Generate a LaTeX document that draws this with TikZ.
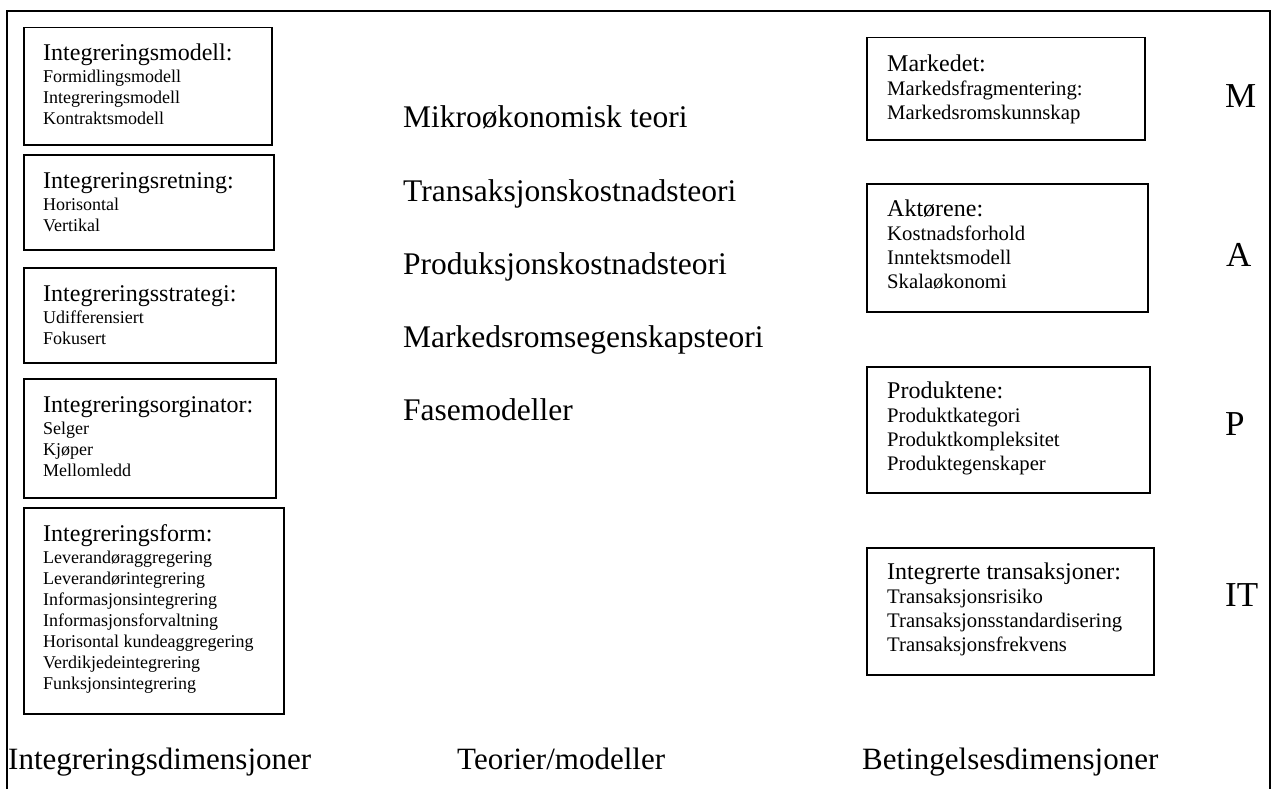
\documentclass[tikz,border=0pt]{standalone}
\usepackage{fontspec}
\setmainfont{Liberation Serif}
\newcommand{\hdr}[1]{{\fontsize{24}{24}\selectfont #1}}
\begin{document}
\begin{tikzpicture}[x=1pt, y=-1pt,
    dimbox/.style={draw, line width=1.5pt, rectangle, anchor=north west, inner sep=0pt},
    lefttext/.style={anchor=north west, inner sep=0pt, align=left, font=\fontsize{18}{21}\selectfont},
    righttext/.style={anchor=north west, inner sep=0pt, align=left, font=\fontsize{20.7}{24}\selectfont},
    theory/.style={anchor=base west, inner sep=0pt, font=\fontsize{31.5}{36}\selectfont},
    letter/.style={anchor=base west, inner sep=0pt, font=\fontsize{35}{40}\selectfont},
    caption/.style={anchor=base west, inner sep=0pt, font=\fontsize{31}{36}\selectfont}]

    \useasboundingbox (0,0) rectangle (1273,789);

    % Outer frame, open at the bottom
    \coordinate (fbl) at (7,789);
    \coordinate (ftl) at (7,11);
    \coordinate (ftr) at (1270,11);
    \coordinate (fbr) at (1270,789);
    \draw[line width=1.5pt] (fbl) -- (ftl) -- (ftr) -- (fbr);

    % Integration dimensions (left column)
    \node[dimbox, minimum width=248pt, minimum height=117pt] (modell) at (23,27) {};
    \node[lefttext] (modell-t) at (43,43.7) {\hdr{Integreringsmodell:}\\[1pt]Formidlingsmodell\\Integreringsmodell\\Kontraktsmodell};

    \node[dimbox, minimum width=250pt, minimum height=95pt] (retning) at (23,154) {};
    \node[lefttext] (retning-t) at (43,172) {\hdr{Integreringsretning:}\\[1pt]Horisontal\\Vertikal};

    \node[dimbox, minimum width=252pt, minimum height=95pt] (strategi) at (23,267) {};
    \node[lefttext] (strategi-t) at (43,285) {\hdr{Integreringsstrategi:}\\[1pt]Udifferensiert\\Fokusert};

    \node[dimbox, minimum width=252pt, minimum height=119pt] (orginator) at (23,378) {};
    \node[lefttext] (orginator-t) at (43,396) {\hdr{Integreringsorginator:}\\[1pt]Selger\\Kjøper\\Mellomledd};

    \node[dimbox, minimum width=260pt, minimum height=206pt] (form) at (23,507) {};
    \node[lefttext] (form-t) at (43,524) {\hdr{Integreringsform:}\\[1pt]Leverandøraggregering\\Leverandørintegrering\\Informasjonsintegrering\\Informasjonsforvaltning\\Horisontal kundeaggregering\\Verdikjedeintegrering\\Funksjonsintegrering};

    % Theories / models (middle column)
    \node[theory] (mikro) at (403,128) {Mikroøkonomisk teori};
    \node[theory] (transkost) at (403,201) {Transaksjonskostnadsteori};
    \node[theory] (prodkost) at (403,274) {Produksjonskostnadsteori};
    \node[theory] (markrom) at (403,347) {Markedsromsegenskapsteori};
    \node[theory] (fase) at (403,420) {Fasemodeller};

    % Condition dimensions (right column)
    \node[dimbox, minimum width=278pt, minimum height=102pt] (marked) at (866,37) {};
    \node[righttext] (marked-t) at (887,55) {\hdr{Markedet:}\\Markedsfragmentering:\\Markedsromskunnskap};

    \node[dimbox, minimum width=281pt, minimum height=128pt] (aktor) at (866,183) {};
    \node[righttext] (aktor-t) at (887,200) {\hdr{Aktørene:}\\Kostnadsforhold\\Inntektsmodell\\Skalaøkonomi};

    \node[dimbox, minimum width=283pt, minimum height=126pt] (produkt) at (866,366) {};
    \node[righttext] (produkt-t) at (887,382) {\hdr{Produktene:}\\Produktkategori\\Produktkompleksitet\\Produktegenskaper};

    \node[dimbox, minimum width=287pt, minimum height=127pt] (trans) at (866,547) {};
    \node[righttext] (trans-t) at (887,563) {\hdr{Integrerte transaksjoner:}\\Transaksjonsrisiko\\Transaksjonsstandardisering\\Transaksjonsfrekvens};

    % MAPIT letters
    \node[letter] (lm) at (1225,108) {M};
    \node[letter] (la) at (1226,266) {A};
    \node[letter] (lp) at (1225,435) {P};
    \node[letter] (lit) at (1225,606) {IT};

    % Column captions
    \node[caption] (cap-int) at (8,769) {Integreringsdimensjoner};
    \node[caption] (cap-teo) at (457,769) {Teorier/modeller};
    \node[caption] (cap-bet) at (862,769) {Betingelsesdimensjoner};

\end{tikzpicture}
\end{document}
